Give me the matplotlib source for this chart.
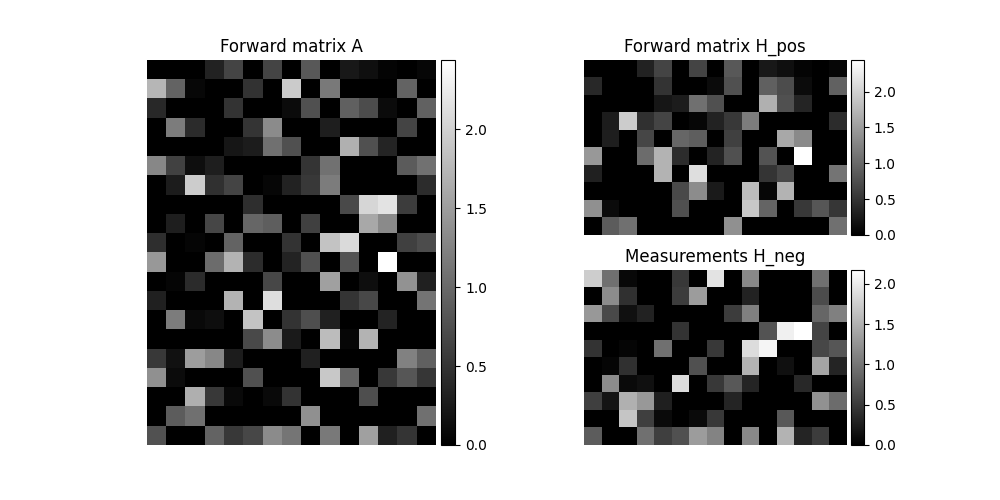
import numpy as np
import matplotlib
matplotlib.use('Agg')
import matplotlib.pyplot as plt
from matplotlib.gridspec import GridSpec
from mpl_toolkits.axes_grid1 import make_axes_locatable

# Linhas pares de A (H_pos)
h_pos = [
    [0, 0, 0, 0.33, 0.65, 0, 0.65, 0, 0.84, 0, 0.23, 0.15, 0.04, 0, 0.06],
    [0.40, 0, 0, 0, 0.49, 0, 0, 0.11, 0.77, 0, 0.92, 0.73, 0.11, 0, 0.94],
    [0, 0, 0, 0, 0.21, 0.27, 1.07, 0.77, 0, 0, 1.68, 0.77, 0.36, 0, 0],
    [0, 0.27, 1.95, 0.46, 0.65, 0, 0.06, 0.33, 0.54, 1.19, 0, 0, 0, 0, 0.42],
    [0, 0.29, 0, 0.67, 0, 0.98, 0.90, 0, 0.61, 0, 0, 1.61, 1.32, 0, 0],
    [1.45, 0, 0, 1.03, 1.72, 0.42, 0, 0.34, 0.77, 0, 0.80, 0, 2.44, 0, 0],
    [0.31, 0, 0, 0, 1.72, 0, 2.12, 0, 0, 0, 0.50, 0.69, 0, 0, 1.11],
    [0, 0, 0, 0, 0, 0.71, 1.34, 0.25, 0, 1.80, 0.06, 1.72, 0, 0, 0],
    [1.38, 0.11, 0, 0, 0, 0.77, 0, 0, 0, 1.91, 0.96, 0, 0.54, 0.82, 0.52],
    [0, 0.88, 1.07, 0, 0, 0, 0, 0, 1.38, 0, 0, 0, 0, 0, 1.07],
]

# Linhas impares de A (H_neg)
h_neg = [
    [1.74, 0.95, 0.07, 0, 0, 0.48, 0, 1.94, 0, 1.16, 0, 0, 0, 0.95, 0],
    [0, 1.19, 0.41, 0, 0, 0.51, 1.33, 0, 0, 0.29, 0, 0, 0, 0.65, 0],
    [1.29, 0.63, 0.14, 0.29, 0, 0, 0, 0, 0.51, 1.09, 0, 0, 0, 0.87, 1.09],
    [0, 0, 0, 0, 0, 0.44, 0, 0, 0, 0, 0.71, 2.04, 2.17, 0.58, 0],
    [0.44, 0, 0.05, 0, 0.95, 0, 0, 0.49, 0, 1.87, 2.08, 0, 0, 0.61, 0.73],
    [0, 0.05, 0.41, 0, 0, 0, 0.68, 0, 0, 1.53, 0, 0.14, 0, 1.40, 0.32],
    [0, 1.19, 0.09, 0.14, 0, 1.87, 0, 0.49, 0.75, 0.31, 0, 0, 0.34, 0, 0],
    [0.54, 0.17, 1.50, 1.29, 0.27, 0, 0, 0, 0.32, 0, 0, 0, 0, 1.23, 0.92],
    [0, 0, 1.67, 0.54, 0.09, 0, 0.09, 0.49, 0, 0, 0, 0.75, 0, 0, 0],
    [0.78, 0, 0, 0.95, 0.54, 0.68, 1.33, 1.12, 0, 1.16, 0, 1.53, 0.31, 0.51, 0],
]

H_pos = np.array(h_pos)
H_neg = np.array(h_neg)

# Matriz A intercalando as linhas
A = np.empty((H_pos.shape[0] * 2, H_pos.shape[1]))
A[0::2] = H_pos
A[1::2] = H_neg


def mostrar(ax, dados, titulo):
    im = ax.imshow(dados, cmap='gray')
    ax.set_title(titulo)
    ax.axis('off')
    divider = make_axes_locatable(ax)
    cax = divider.append_axes('right', size='5%', pad=0.05)
    plt.colorbar(im, cax=cax)


fig = plt.figure(figsize=(10, 5))
gs = GridSpec(2, 2, figure=fig)
ax1 = fig.add_subplot(gs[:, 0])
ax2 = fig.add_subplot(gs[0, 1])
ax3 = fig.add_subplot(gs[1, 1])

mostrar(ax1, A, 'Forward matrix A')
mostrar(ax2, H_pos, 'Forward matrix H_pos')
mostrar(ax3, H_neg, 'Measurements H_neg')

plt.savefig('out.png', dpi=100)
